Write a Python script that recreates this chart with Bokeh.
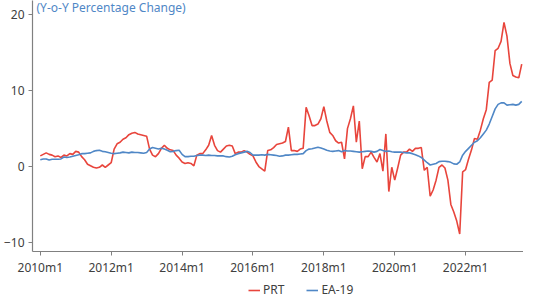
from bokeh.plotting import figure
from bokeh.layouts import column
from bokeh.models import Range1d, FixedTicker, Legend, LegendItem, Label, ColumnDataSource
from bokeh.embed import file_html
from bokeh.resources import INLINE

# monthly index: 0 = 2010m1
prt = [
    # 2010
    1.4, 1.6, 1.8, 1.6, 1.5, 1.3, 1.4, 1.2, 1.5, 1.4, 1.7, 1.6,
    # 2011
    2.0, 1.9, 1.3, 0.9, 0.3, 0.1, -0.1, -0.2, -0.1, 0.2, -0.1, 0.2,
    # 2012
    0.5, 2.3, 3.0, 3.2, 3.6, 3.8, 4.2, 4.4, 4.5, 4.3, 4.2, 4.1,
    # 2013
    4.0, 2.3, 1.5, 1.3, 1.7, 2.4, 2.8, 2.4, 2.2, 2.1, 1.5, 1.1,
    # 2014
    0.6, 0.4, 0.5, 0.4, 0.1, 1.5, 1.7, 1.7, 2.2, 2.8, 4.1, 2.8,
    # 2015
    2.1, 1.9, 2.3, 2.7, 2.8, 2.7, 1.7, 1.9, 1.9, 2.1, 1.9, 1.6,
    # 2016
    1.4, 0.6, 0.0, -0.3, -0.6, 2.1, 2.2, 2.5, 2.9, 3.0, 3.1, 3.3,
    # 2017
    5.2, 2.1, 2.1, 2.0, 2.3, 2.4, 7.8, 6.7, 5.4, 5.4, 5.6, 6.3,
    # 2018
    7.9, 6.0, 4.5, 4.1, 3.4, 3.1, 3.2, 1.0, 5.0, 6.3, 8.0, 3.2,
    # 2019
    6.0, -0.3, 1.3, 1.3, 1.9, 1.2, 0.6, 1.7, -0.6, 4.3, -3.3, -0.1,
    # 2020
    -1.8, -0.2, 1.5, 1.9, 1.9, 2.3, 2.0, 2.4, 2.4, 2.5, -0.5, -0.1,
    # 2021
    -3.9, -3.1, -1.8, -0.1, 0.2, -0.2, -1.8, -5.0, -6.0, -7.2, -8.9, -0.7,
    # 2022
    -0.4, 1.0, 2.2, 3.7, 3.6, 4.8, 6.3, 7.5, 11.1, 11.4, 15.3, 15.6,
    # 2023
    16.5, 19.0, 17.2, 13.6, 12.0, 11.8, 11.7, 13.5,
]

ea19 = [
    # 2010
    0.9, 1.0, 1.0, 0.85, 0.95, 0.95, 0.95, 1.0, 1.25, 1.2, 1.25, 1.35,
    # 2011
    1.45, 1.55, 1.7, 1.7, 1.75, 1.8, 2.0, 2.1, 2.15, 2.0, 1.95, 1.85,
    # 2012
    1.75, 1.7, 1.75, 1.8, 1.9, 1.85, 1.8, 1.9, 1.85, 1.85, 1.8, 1.75,
    # 2013
    1.85, 2.3, 2.5, 2.4, 2.3, 2.4, 2.3, 2.15, 1.95, 2.0, 2.1, 2.15,
    # 2014
    1.6, 1.3, 1.3, 1.35, 1.35, 1.45, 1.5, 1.5, 1.45, 1.5, 1.45, 1.45,
    # 2015
    1.4, 1.4, 1.4, 1.3, 1.25, 1.35, 1.55, 1.7, 1.8, 1.9, 2.0, 1.85,
    # 2016
    1.5, 1.5, 1.5, 1.55, 1.5, 1.6, 1.55, 1.5, 1.45, 1.35, 1.4, 1.5,
    # 2017
    1.5, 1.55, 1.6, 1.6, 1.65, 1.7, 2.1, 2.3, 2.35, 2.45, 2.55, 2.45,
    # 2018
    2.3, 2.15, 2.05, 2.0, 2.05, 2.1, 1.95, 2.1, 2.05, 2.05, 2.0, 1.95,
    # 2019
    1.9, 1.95, 2.0, 2.05, 2.0, 1.9, 2.0, 2.25, 2.1, 2.0, 2.05, 1.95,
    # 2020
    1.9, 1.9, 1.9, 1.85, 1.8, 1.8, 1.7, 1.55, 1.4, 1.2, 0.85, 0.5,
    # 2021
    0.2, 0.3, 0.4, 0.65, 0.7, 0.7, 0.65, 0.55, 0.35, 0.3, 0.6, 1.5,
    # 2022
    2.0, 2.4, 2.8, 3.2, 3.4, 3.8, 4.3, 4.8, 5.6, 6.6, 7.6, 8.2,
    # 2023
    8.4, 8.4, 8.1, 8.15, 8.2, 8.1, 8.2, 8.6,
]

months = list(range(len(prt)))
tick_pos = [0, 24, 48, 72, 96, 120, 144]
tick_labels = ["2010m1", "2012m1", "2014m1", "2016m1", "2018m1", "2020m1", "2022m1"]
y_ticks = [-10, 0, 10, 20]
series_names = ["PRT", "EA-19"]
title_text = "(Y-o-Y Percentage Change)"

RED = "#e8453c"
BLUE = "#4f87c6"
FONT = "Noto Sans"
TXT = "#404040"
AX = "#808080"

src = ColumnDataSource(dict(m=months, prt=prt, ea=ea19))

p = figure(width=523, height=278, output_backend="svg", toolbar_location=None,
           x_range=Range1d(-2.64, 163.6), y_range=Range1d(-11.21, 21.9),
           min_border_left=26, min_border_right=0, min_border_top=0, min_border_bottom=24)
p.outline_line_color = None
p.xgrid.visible = False
p.ygrid.visible = False
p.background_fill_color = "white"
p.border_fill_color = "white"

p.line("m", "prt", source=src, color=RED, line_width=1.6)
p.line("m", "ea", source=src, color=BLUE, line_width=1.6)

xa = p.xaxis[0]
xa.ticker = FixedTicker(ticks=tick_pos)
xa.major_label_overrides = {t: l for t, l in zip(tick_pos, tick_labels)}
ya = p.yaxis[0]
ya.ticker = FixedTicker(ticks=y_ticks)
for ax in (xa, ya):
    ax.axis_line_color = AX
    ax.axis_line_width = 1.2
    ax.major_tick_line_color = AX
    ax.major_tick_out = 4
    ax.major_tick_in = 0
    ax.minor_tick_line_color = None
    ax.major_label_text_font = FONT
    ax.major_label_text_font_size = "12px"
    ax.major_label_text_color = TXT
xa.major_label_standoff = 3
ya.major_label_standoff = 4

p.add_layout(Label(x=4, y=253, x_units="screen", y_units="screen", text=title_text,
                   text_font=FONT, text_font_size="12px", text_color=BLUE,
                   text_baseline="top"))

# legend strip below the chart (its series lie outside its visible range)
lg = figure(width=523, height=21, output_backend="svg", toolbar_location=None,
            x_range=Range1d(-1000, -999), y_range=Range1d(-1000, -999),
            min_border_left=0, min_border_right=0, min_border_top=0, min_border_bottom=0)
lg.axis.visible = False
lg.grid.visible = False
lg.outline_line_color = None
k1 = lg.line("m", "prt", source=src, color=RED, line_width=1.6)
k2 = lg.line("m", "ea", source=src, color=BLUE, line_width=1.6)
legend = Legend(items=[LegendItem(label=series_names[0], renderers=[k1]),
                       LegendItem(label=series_names[1], renderers=[k2])],
                orientation="horizontal", location=(216, 1),
                padding=0, margin=0, spacing=22, glyph_width=12, glyph_height=16,
                label_standoff=3, label_height=16,
                label_text_font=FONT, label_text_font_size="12px", label_text_color=TXT,
                background_fill_alpha=0, border_line_color=None)
lg.add_layout(legend, "center")

layout = column(p, lg, spacing=0)
open("out.html", "w").write(file_html(layout, INLINE))
